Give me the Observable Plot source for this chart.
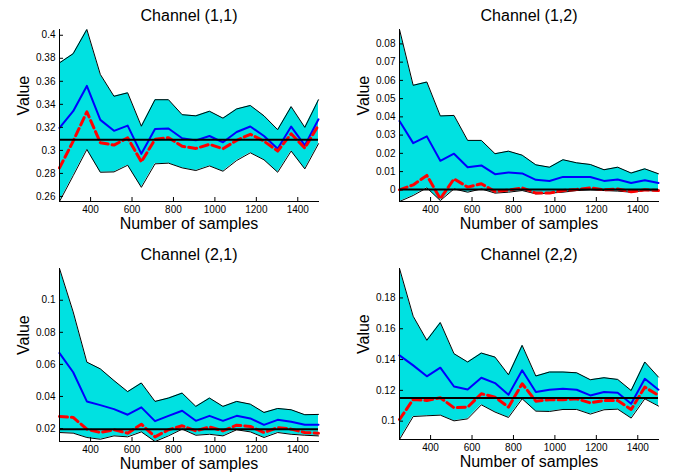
<!DOCTYPE html>
<html>
<head>
<meta charset="utf-8">
<script src="https://cdn.jsdelivr.net/npm/d3@7"></script>
<script src="https://cdn.jsdelivr.net/npm/@observablehq/plot@0.6"></script>
<style>
  html, body { margin: 0; padding: 0; background: white; }
  #grid { position: relative; width: 680px; height: 474px; }
  .cell { position: absolute; width: 340px; height: 237px; }
  .cell svg { display: block; overflow: visible; }
</style>
</head>
<body>
<div id="grid">
  <div class="cell" id="p11" style="left:0;top:0"></div>
  <div class="cell" id="p12" style="left:340px;top:0"></div>
  <div class="cell" id="p21" style="left:0;top:237px"></div>
  <div class="cell" id="p22" style="left:340px;top:237px"></div>
</div>
<script>
// Sample sizes (x positions)
const samples = [250, 316, 382, 447, 513, 579, 645, 711, 776, 842, 908, 974, 1039, 1105, 1171, 1237, 1303, 1368, 1434, 1500];
const xTicks = [400, 600, 800, 1000, 1200, 1400];

// Channel (1,1)
const c11Upper = [0.376, 0.384, 0.405, 0.366, 0.347, 0.350, 0.321, 0.344, 0.344, 0.331, 0.330, 0.334, 0.328, 0.336, 0.339, 0.330, 0.318, 0.338, 0.320, 0.344];
const c11Mean  = [0.3195, 0.334, 0.356, 0.3265, 0.317, 0.3215, 0.297, 0.3186, 0.319, 0.3105, 0.3087, 0.3125, 0.307, 0.316, 0.3207, 0.3125, 0.3014, 0.3207, 0.3043, 0.327];
const c11Est   = [0.2848, 0.308, 0.3335, 0.3067, 0.3046, 0.311, 0.290, 0.3096, 0.311, 0.3035, 0.3017, 0.3052, 0.3014, 0.3087, 0.314, 0.308, 0.2994, 0.3144, 0.302, 0.322];
const c11Lower = [0.2556, 0.278, 0.3008, 0.281, 0.2813, 0.2871, 0.2679, 0.2883, 0.2889, 0.2848, 0.2825, 0.2865, 0.2819, 0.2912, 0.2979, 0.2918, 0.281, 0.2994, 0.2839, 0.3058];
const c11True  = 0.3093;
const c11Ticks = [0.26, 0.28, 0.30, 0.32, 0.34, 0.36, 0.38, 0.40];

// Channel (1,2)
const c12Upper = [0.0879, 0.0573, 0.0591, 0.0405, 0.0408, 0.0271, 0.0271, 0.0198, 0.0212, 0.0190, 0.0137, 0.0124, 0.0165, 0.0148, 0.0139, 0.0110, 0.0124, 0.0092, 0.0115, 0.0088];
const c12Mean  = [0.0377, 0.0256, 0.0293, 0.0159, 0.0198, 0.0124, 0.0134, 0.0086, 0.0095, 0.0090, 0.0055, 0.0048, 0.0071, 0.0070, 0.0070, 0.0049, 0.0057, 0.0037, 0.0053, 0.0037];
const c12Est   = [0.0000, 0.0027, 0.0079, -0.0049, 0.0060, 0.0015, 0.0033, -0.0009, -0.0002, 0.0011, -0.0018, -0.0018, -0.0004, 0.0002, 0.0011, 0.0000, 0.0005, -0.0011, 0.0000, -0.0004];
const c12Lower = [-0.0064, -0.0031, 0.0011, -0.0059, 0.0005, -0.0013, 0.0005, -0.0018, -0.0013, -0.0004, -0.0022, -0.0018, -0.0013, -0.0004, 0.0000, -0.0004, -0.0007, -0.0013, -0.0004, -0.0007];
const c12True  = 0.0002;
const c12Ticks = [0, 0.01, 0.02, 0.03, 0.04, 0.05, 0.06, 0.07, 0.08];

// Channel (2,1)
const c21Upper = [0.1198, 0.0927, 0.0614, 0.0572, 0.0499, 0.0430, 0.0484, 0.0369, 0.0390, 0.0421, 0.0338, 0.0390, 0.0338, 0.0369, 0.0352, 0.0300, 0.0325, 0.0317, 0.0286, 0.0288];
const c21Mean  = [0.0670, 0.0551, 0.0369, 0.0346, 0.0321, 0.0286, 0.0332, 0.0246, 0.0279, 0.0311, 0.0248, 0.0279, 0.0248, 0.0279, 0.0263, 0.0223, 0.0254, 0.0242, 0.0223, 0.0223];
const c21Est   = [0.0275, 0.0269, 0.0196, 0.0175, 0.0192, 0.0171, 0.0227, 0.0148, 0.0192, 0.0217, 0.0185, 0.0210, 0.0185, 0.0221, 0.0213, 0.0175, 0.0206, 0.0196, 0.0175, 0.0171];
const c21Lower = [0.0175, 0.0171, 0.0144, 0.0133, 0.0154, 0.0148, 0.0179, 0.0119, 0.0154, 0.0196, 0.0158, 0.0164, 0.0154, 0.0192, 0.0179, 0.0144, 0.0175, 0.0164, 0.0158, 0.0154];
const c21True  = 0.0196;
const c21Ticks = [0.02, 0.04, 0.06, 0.08, 0.1];

// Channel (2,2)
const c22Upper = [0.1991, 0.1681, 0.1525, 0.1640, 0.1438, 0.1384, 0.1442, 0.1416, 0.1301, 0.1492, 0.1293, 0.1319, 0.1319, 0.1314, 0.1269, 0.1282, 0.1271, 0.1199, 0.1384, 0.1286];
const c22Mean  = [0.1427, 0.1362, 0.1291, 0.1347, 0.1225, 0.1206, 0.1282, 0.1247, 0.1171, 0.1330, 0.1189, 0.1204, 0.1210, 0.1204, 0.1167, 0.1189, 0.1184, 0.1113, 0.1275, 0.1204];
const c22Est   = [0.1011, 0.1141, 0.1134, 0.1152, 0.1087, 0.1091, 0.1178, 0.1156, 0.1091, 0.1243, 0.1130, 0.1139, 0.1139, 0.1145, 0.1119, 0.1134, 0.1134, 0.1076, 0.1221, 0.1167];
const c22Lower = [0.0881, 0.1030, 0.1035, 0.1039, 0.1002, 0.1015, 0.1106, 0.1059, 0.1024, 0.1145, 0.1065, 0.1063, 0.1076, 0.1076, 0.1046, 0.1074, 0.1078, 0.1020, 0.1145, 0.1098];
const c22True  = 0.1150;
const c22Ticks = [0.1, 0.12, 0.14, 0.16, 0.18];

const titles = ["Channel (1,1)", "Channel (1,2)", "Channel (2,1)", "Channel (2,2)"];
const xLabel = "Number of samples";
const yLabel = "Value";

const FONT = "'Liberation Sans', Arial, Helvetica, sans-serif";

function panel(title, upper, mean, est, lower, truth, yTicks, mt, mb) {
  const W = 340, H = 237, ml = 59, mr = 22;
  const ih = H - mt - mb, iw = W - ml - mr;
  const rows = samples.map((x, i) => ({x, upper: upper[i], mean: mean[i], est: est[i], lower: lower[i]}));
  const yDomain = [d3.min(lower), d3.max(upper)];
  return Plot.plot({
    width: W, height: H,
    marginLeft: ml, marginRight: mr, marginTop: mt, marginBottom: mb,
    x: {domain: [250, 1500]},
    y: {domain: yDomain},
    style: {fontFamily: FONT, fontSize: "10px", color: "#000", background: "white", overflow: "visible"},
    marks: [
      Plot.areaY(rows, {x: "x", y1: "lower", y2: "upper", fill: "#00e1e1", fillOpacity: 1}),
      Plot.lineY(rows, {x: "x", y: "upper", stroke: "black", strokeWidth: 1}),
      Plot.lineY(rows, {x: "x", y: "lower", stroke: "black", strokeWidth: 1}),
      Plot.lineY(rows, {x: "x", y: "mean", stroke: "#0000ff", strokeWidth: 2}),
      Plot.lineY(rows, {x: "x", y: "est", stroke: "#ff0000", strokeWidth: 3, strokeDasharray: "8,4"}),
      Plot.ruleY([truth], {stroke: "black", strokeWidth: 2}),
      Plot.tickX(xTicks, {x: d => d, stroke: "black", insetTop: ih - 4}),
      Plot.tickY(yTicks, {y: d => d, stroke: "black", insetRight: iw - 4}),
      Plot.axisX(xTicks, {tickSize: 0, tickPadding: 4, tickFormat: d3.format("d"), label: null, fontSize: 10}),
      Plot.axisY(yTicks, {tickSize: 0, tickPadding: 4, tickFormat: d3.format("~g"), label: null, fontSize: 10}),
      Plot.frame({anchor: "left", stroke: "black"}),
      Plot.frame({anchor: "bottom", stroke: "black"}),
      Plot.text([title], {text: d => d, frameAnchor: "top", dy: -14, lineAnchor: "middle", fontSize: 16}),
      Plot.text([xLabel], {text: d => d, frameAnchor: "bottom", dy: 22, lineAnchor: "middle", fontSize: 16}),
      Plot.text([yLabel], {text: d => d, frameAnchor: "left", dx: -36, rotate: -90, lineAnchor: "middle", fontSize: 16})
    ]
  });
}

document.getElementById("p11").append(panel(titles[0], c11Upper, c11Mean, c11Est, c11Lower, c11True, c11Ticks, 29, 36));
document.getElementById("p12").append(panel(titles[1], c12Upper, c12Mean, c12Est, c12Lower, c12True, c12Ticks, 29, 36));
document.getElementById("p21").append(panel(titles[2], c21Upper, c21Mean, c21Est, c21Lower, c21True, c21Ticks, 31, 33));
document.getElementById("p22").append(panel(titles[3], c22Upper, c22Mean, c22Est, c22Lower, c22True, c22Ticks, 31, 35));
</script>
</body>
</html>
